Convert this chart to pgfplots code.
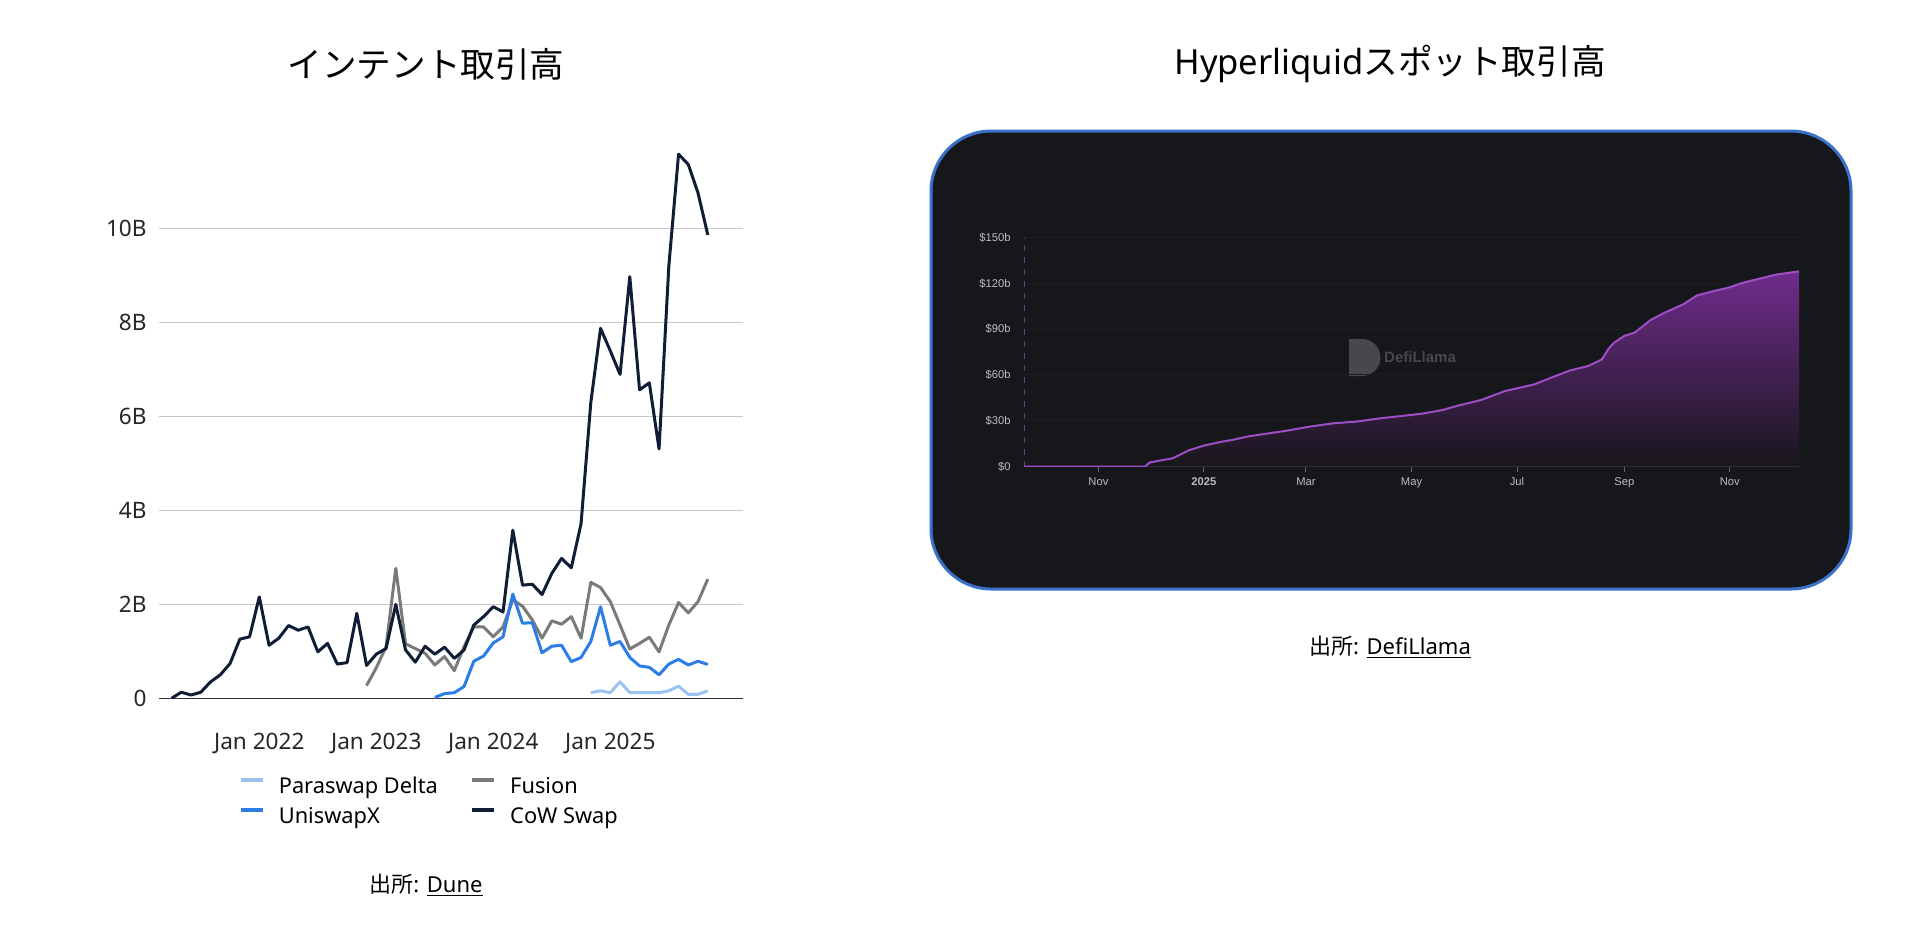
\documentclass[border=0pt]{standalone}
\usepackage{pgfplots}
\pgfplotsset{compat=1.18}
\usepackage{fontspec}
\setmainfont{Noto Sans}
\newfontfamily\cjk{Noto Sans CJK JP}
\newfontfamily\arialfont{Liberation Sans}

\definecolor{cow}{RGB}{16,29,54}
\definecolor{fusion}{RGB}{122,122,122}
\definecolor{uniswapx}{RGB}{45,125,230}
\definecolor{paraswap}{RGB}{156,195,239}
\definecolor{panelbg}{RGB}{22,23,27}
\definecolor{panelborder}{RGB}{59,114,201}
\definecolor{hlline}{RGB}{158,78,196}
\definecolor{hltop}{RGB}{112,44,140}
\definecolor{hlbot}{RGB}{24,22,28}
\definecolor{hlaxis}{RGB}{95,95,100}
\definecolor{hldash}{RGB}{110,60,130}
\definecolor{hlgrid}{RGB}{29,30,35}
\definecolor{hltext}{RGB}{190,190,192}
\definecolor{wmark}{RGB}{72,72,76}

\begin{document}
\begin{tikzpicture}
\useasboundingbox (0pt,0pt) rectangle (960pt,-471.5pt);

% titles and sources
\node[font={\cjk\fontsize{17.3}{20}\selectfont}] at (213pt,-32pt) {インテント取引高};
\node[font={\fontsize{17.3}{20}\selectfont}] at (695pt,-32pt) {Hyperliquid{\cjk スポット取引高}};
\node[font={\fontsize{11}{13}\selectfont}] at (213pt,-442.5pt) {{\cjk 出所}: \underline{Dune}};
\node[font={\fontsize{11}{13}\selectfont}] at (695pt,-323.5pt) {{\cjk 出所}: \underline{DefiLlama}};

% left chart: monthly intent volume, x = months since Jan 2021
\begin{axis}[
  at={(79.5pt,-349.15pt)}, anchor=south west,
  scale only axis, width=292pt, height=281.7pt,
  xmin=1.713, xmax=61.61, ymin=0, ymax=12,
  axis line style={draw=none},
  tick style={draw=none},
  ytick={2,4,6,8,10}, yticklabels={2B,4B,6B,8B,10B},
  extra y ticks={0}, extra y tick labels={0},
  extra y tick style={ymajorgrids=true, major grid style={draw=black!80, line width=0.6pt}},
  ymajorgrids, major grid style={draw=black!22, line width=0.6pt},
  xtick={12,24,36,48}, xticklabels={Jan 2022,Jan 2023,Jan 2024,Jan 2025},
  ticklabel style={font={\fontsize{11.3}{13}\selectfont}, text=black!85},
  yticklabel style={anchor=east, inner sep=0pt, xshift=-6pt},
  xticklabel style={anchor=base, inner sep=0pt, yshift=-25.6pt},
  /pgf/number format/assume math mode=true,
  legend columns=2,
  legend cell align=left,
  legend style={at={(axis description cs:0.136,-0.1397)}, anchor=north west,
    draw=none, fill=none, inner sep=0pt, column sep=7pt, row sep=5.4pt,
    font={\fontsize{10.9}{13}\selectfont}, nodes={inner sep=0pt}},
  legend image code/.code={\draw[#1, line width=2pt] (0pt,3.5pt) -- (11pt,3.5pt);},
  line join=round,
]
\addlegendimage{paraswap}\addlegendentry{\makebox[88.7pt][l]{Paraswap Delta}}
\addlegendimage{fusion}\addlegendentry{Fusion}
\addlegendimage{uniswapx}\addlegendentry{\makebox[88.7pt][l]{UniswapX}}
\addlegendimage{cow}\addlegendentry{CoW Swap}

\addplot[paraswap, line width=1.5pt, forget plot] coordinates {
(46,0.12)(47,0.16)(48,0.12)(49,0.35)(50,0.12)(51,0.12)(52,0.12)(53,0.12)
(54,0.16)(55,0.26)(56,0.085)(57,0.085)(58,0.16)};
\addplot[fusion, line width=1.5pt, forget plot] coordinates {
(23,0.27)(24,0.65)(25,1.1)(26,2.77)(27,1.16)(28,1.06)(29,0.96)(30,0.71)
(31,0.89)(32,0.59)(33,1.1)(34,1.52)(35,1.52)(36,1.31)(37,1.52)(38,2.1)
(39,1.96)(40,1.67)(41,1.28)(42,1.65)(43,1.58)(44,1.74)(45,1.28)(46,2.47)
(47,2.36)(48,2.06)(49,1.56)(50,1.05)(51,1.17)(52,1.3)(53,0.99)(54,1.56)
(55,2.04)(56,1.82)(57,2.06)(58,2.54)};
\addplot[uniswapx, line width=1.5pt, forget plot] coordinates {
(30,0.02)(31,0.1)(32,0.12)(33,0.25)(34,0.79)(35,0.9)(36,1.18)(37,1.31)
(38,2.22)(39,1.6)(40,1.61)(41,0.97)(42,1.11)(43,1.13)(44,0.78)(45,0.87)
(46,1.21)(47,1.95)(48,1.13)(49,1.21)(50,0.87)(51,0.69)(52,0.66)(53,0.5)
(54,0.73)(55,0.83)(56,0.71)(57,0.79)(58,0.72)};
\addplot[cow, line width=1.5pt, forget plot] coordinates {
(3,0.0)(4,0.13)(5,0.07)(6,0.13)(7,0.35)(8,0.5)(9,0.74)(10,1.26)(11,1.31)
(12,2.16)(13,1.13)(14,1.28)(15,1.55)(16,1.45)(17,1.52)(18,0.99)(19,1.17)
(20,0.73)(21,0.76)(22,1.81)(23,0.70)(24,0.94)(25,1.06)(26,2.0)(27,1.03)
(28,0.77)(29,1.11)(30,0.94)(31,1.09)(32,0.85)(33,1.03)(34,1.56)(35,1.74)
(36,1.95)(37,1.84)(38,3.58)(39,2.41)(40,2.43)(41,2.21)(42,2.66)(43,2.98)
(44,2.78)(45,3.72)(46,6.3)(47,7.88)(48,7.4)(49,6.9)(50,8.98)(51,6.57)
(52,6.72)(53,5.31)(54,9.2)(55,11.59)(56,11.37)(57,10.76)(58,9.87)};
\end{axis}

% right panel background
\draw[fill=panelbg, draw=panelborder, line width=1.5pt, rounded corners=30pt]
  (465.5pt,-65.5pt) rectangle (925.5pt,-294.5pt);

% watermark
\fill[wmark] (674.5pt,-169.5pt) -- (681pt,-169.5pt) arc (90:-90:9.25pt) -- (674.5pt,-188pt) -- cycle;
\node[font={\arialfont\bfseries\fontsize{7.5}{9}\selectfont}, text=wmark] at (710pt,-178.75pt) {DefiLlama};

% right chart: cumulative spot volume, x = days since 1 Jan 2025
\begin{axis}[
  at={(512pt,-233.25pt)}, anchor=south west,
  scale only axis, width=387.5pt, height=114.5pt,
  xmin=-104, xmax=344, ymin=0, ymax=150,
  axis x line*=bottom, axis y line*=left,
  x axis line style={draw=hlaxis, line width=0.5pt},
  y axis line style={draw=hldash, dashed, line width=0.5pt},
  xtick={-61,0,59,120,181,243,304},
  xticklabels={Nov,\textbf{2025},Mar,May,Jul,Sep,Nov},
  ytick={0,30,60,90,120,150},
  yticklabels={\$0,\$30b,\$60b,\$90b,\$120b,\$150b},
  ymajorgrids, major grid style={draw=hlgrid, line width=0.5pt},
  tick align=outside, major tick length=2.5pt,
  xtick style={draw=hlaxis, line width=0.5pt},
  ytick style={draw=none},
  ticklabel style={font={\arialfont\fontsize{5.6}{6.5}\selectfont}, text=hltext},
  yticklabel style={anchor=east, inner sep=0pt, xshift=-4pt},
  xticklabel style={anchor=base, inner sep=0pt, yshift=-7pt},
  /pgf/number format/assume math mode=true,
]
\addplot[draw=none, top color=hltop, bottom color=hlbot] coordinates {
(-104,0)(-34,0)(-31.5,2.6)(-21,4.8)(-18,5.4)(-8.6,10.7)(0,13.7)(9.6,16.1)
(16.4,17.4)(25,19.6)(33.6,21.1)(47,23.3)(61,26.1)(74.7,28.3)(88,29.4)
(102,31.6)(116,33.3)(126,34.6)(138,37.0)(146.6,39.8)(160,43.5)(174,49.4)
(184,52.0)(191,53.8)(201,58.3)(211.6,62.9)(222,65.8)(230,70.1)(234,77.3)
(237,81.0)(243,85.6)(249,87.7)(258,95.8)(266,100.6)(277,106.2)(285,112.1)
(294,114.7)(304,117.4)(311,120.2)(321,123.0)(331,125.8)(344,127.8)} \closedcycle;
\addplot[hlline, line width=1pt, line join=round] coordinates {
(-104,0)(-34,0)(-31.5,2.6)(-21,4.8)(-18,5.4)(-8.6,10.7)(0,13.7)(9.6,16.1)
(16.4,17.4)(25,19.6)(33.6,21.1)(47,23.3)(61,26.1)(74.7,28.3)(88,29.4)
(102,31.6)(116,33.3)(126,34.6)(138,37.0)(146.6,39.8)(160,43.5)(174,49.4)
(184,52.0)(191,53.8)(201,58.3)(211.6,62.9)(222,65.8)(230,70.1)(234,77.3)
(237,81.0)(243,85.6)(249,87.7)(258,95.8)(266,100.6)(277,106.2)(285,112.1)
(294,114.7)(304,117.4)(311,120.2)(321,123.0)(331,125.8)(344,127.8)};
\end{axis}
\end{tikzpicture}
\end{document}
